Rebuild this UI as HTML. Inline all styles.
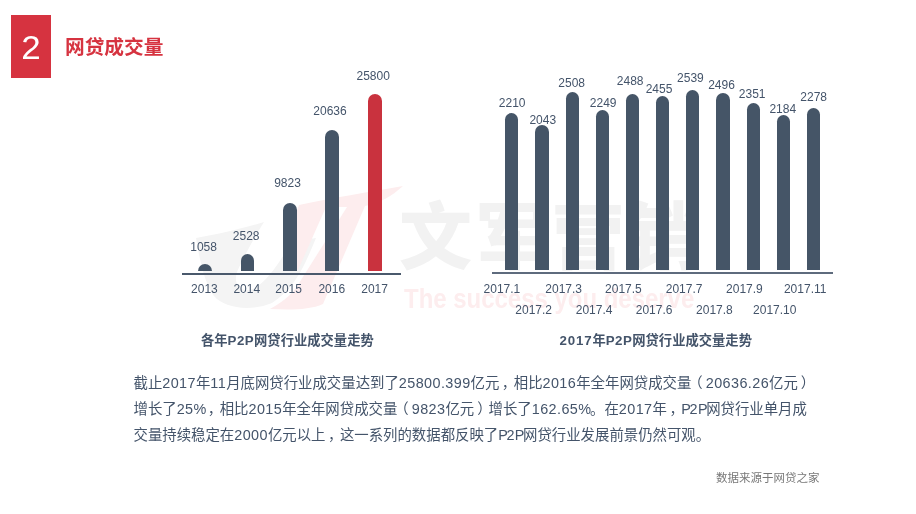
<!DOCTYPE html>
<html lang="zh-CN">
<head>
<meta charset="utf-8">
<title>网贷成交量</title>
<style>
html,body{margin:0;padding:0;}
body{width:916px;height:514px;position:relative;overflow:hidden;background:#fff;
 font-family:"Liberation Sans","Noto Sans CJK SC",sans-serif;color:#44546A;}
.abs{position:absolute;}
.badge{left:11px;top:15px;width:40px;height:63px;background:#D63340;color:#fff;}
.badge span{position:absolute;left:0;width:40px;top:15px;text-align:center;font-size:32.4px;line-height:36px;font-weight:400;transform:scaleX(1.08);font-family:"Liberation Sans",sans-serif;}
.title{left:65px;top:32.5px;font-size:19.7px;line-height:28px;font-weight:700;color:#D63340;white-space:nowrap;}
.bar{position:absolute;background:#455567;border-radius:7px 7px 0 0;}
.bar.red{background:#C9323E;}
.lbl{position:absolute;font-size:12px;line-height:14px;white-space:nowrap;text-align:center;width:60px;margin-left:-30px;color:#44546A;}
.axis{position:absolute;height:1.5px;background:#5B6878;}
.ctitle{position:absolute;font-size:13.3px;line-height:18px;font-weight:700;white-space:nowrap;color:#44546A;}
.ctitle .tp{letter-spacing:0.45px;}
.ctitle .tn{letter-spacing:0.85px;}
.para{left:133.5px;top:370px;font-size:14.4px;line-height:26px;white-space:nowrap;color:#44546A;}
.para .n{letter-spacing:0.41px;}
.para .pc{letter-spacing:-1px;}
.para .p{letter-spacing:-1.4px;}
.para .cm{position:relative;left:2.5px;}
.para .lp{position:relative;left:-3px;}
.para .rp{position:relative;left:3px;}
.src{left:716px;top:468.5px;font-size:11.5px;line-height:18px;color:#787878;white-space:nowrap;}
.wm1{left:399px;top:188px;font-size:73px;line-height:100px;font-weight:900;color:#F2F2F2;letter-spacing:3.3px;white-space:nowrap;}
.wm2{left:403.5px;top:280.8px;font-size:27.6px;line-height:36px;color:#FDEDEE;white-space:nowrap;font-weight:700;transform:scaleX(0.868);transform-origin:0 0;}
</style>
</head>
<body>
<!-- watermark -->
<svg class="abs" style="left:0;top:0" width="916" height="514" viewBox="0 0 916 514">
 <path d="M196 238 C220 234 244 228 264 222 C254 238 242 260 237 272 C233 284 240 292 250 290 C263 287 278 265 292 242 L316 238 C306 262 296 288 272 303 C250 312 224 308 214 296 C205 284 200 262 196 238 Z" fill="#F4F4F4"/>
 <path d="M299 205 C330 198 370 192 403 186 C392 196 380 203 365 206 L323 304 C310 310 290 310 270 309 C282 302 290 296 296 288 L347 207 L326 207 L298 270 C292 268 288 262 286 254 C290 236 294 218 299 205 Z" fill="#FDEDEE"/>
</svg>
<div class="abs wm1">文军营销</div>
<div class="abs wm2">The success you deserve</div>

<!-- header -->
<div class="abs badge"><span>2</span></div>
<div class="abs title">网贷成交量</div>

<!-- left chart -->
<div id="c1">
<div class="bar" style="left:198.1px;top:263.5px;width:13.6px;height:7.5px;"></div>
<div class="lbl" style="left:203.6px;top:239.9px;">1058</div>
<div class="lbl" style="left:204.4px;top:282.0px;">2013</div>
<div class="bar" style="left:240.6px;top:253.5px;width:13.6px;height:17.5px;"></div>
<div class="lbl" style="left:246.2px;top:228.6px;">2528</div>
<div class="lbl" style="left:246.8px;top:282.0px;">2014</div>
<div class="bar" style="left:283.0px;top:203.1px;width:13.6px;height:67.9px;"></div>
<div class="lbl" style="left:287.5px;top:176.1px;">9823</div>
<div class="lbl" style="left:288.6px;top:282.0px;">2015</div>
<div class="bar" style="left:325.3px;top:129.9px;width:13.6px;height:141.1px;"></div>
<div class="lbl" style="left:330.0px;top:104.1px;">20636</div>
<div class="lbl" style="left:331.8px;top:282.0px;">2016</div>
<div class="bar red" style="left:368.0px;top:93.6px;width:13.6px;height:177.4px;"></div>
<div class="lbl" style="left:373.2px;top:69.2px;">25800</div>
<div class="lbl" style="left:374.6px;top:282.0px;">2017</div>
</div><!--/c1-->
<div class="axis" style="left:182px;top:273px;width:219px;height:2px;background:#4A596C;"></div>
<div class="ctitle" style="left:201px;top:332px;">各年<span class="tp">P2P</span>网贷行业成交量走势</div>

<!-- right chart -->
<div id="c2">
<div class="bar" style="left:505.2px;top:113.0px;width:13.3px;height:157.0px;"></div>
<div class="lbl" style="left:512.2px;top:95.5px;">2210</div>
<div class="lbl" style="left:501.9px;top:282.0px;">2017.1</div>
<div class="bar" style="left:535.4px;top:125.4px;width:13.3px;height:144.6px;"></div>
<div class="lbl" style="left:542.8px;top:113.3px;">2043</div>
<div class="lbl" style="left:533.7px;top:303.0px;">2017.2</div>
<div class="bar" style="left:565.5px;top:92.0px;width:13.3px;height:178.0px;"></div>
<div class="lbl" style="left:571.7px;top:75.5px;">2508</div>
<div class="lbl" style="left:563.7px;top:282.0px;">2017.3</div>
<div class="bar" style="left:595.7px;top:110.4px;width:13.3px;height:159.6px;"></div>
<div class="lbl" style="left:603.2px;top:96.3px;">2249</div>
<div class="lbl" style="left:594.1px;top:303.0px;">2017.4</div>
<div class="bar" style="left:625.8px;top:93.6px;width:13.3px;height:176.4px;"></div>
<div class="lbl" style="left:630.2px;top:74.2px;">2488</div>
<div class="lbl" style="left:623.4px;top:282.0px;">2017.5</div>
<div class="bar" style="left:656.0px;top:96.0px;width:13.3px;height:174.0px;"></div>
<div class="lbl" style="left:659.0px;top:82.4px;">2455</div>
<div class="lbl" style="left:654.1px;top:303.0px;">2017.6</div>
<div class="bar" style="left:686.2px;top:89.7px;width:13.3px;height:180.3px;"></div>
<div class="lbl" style="left:690.4px;top:71.3px;">2539</div>
<div class="lbl" style="left:684.1px;top:282.0px;">2017.7</div>
<div class="bar" style="left:716.3px;top:92.8px;width:13.3px;height:177.2px;"></div>
<div class="lbl" style="left:721.5px;top:78.4px;">2496</div>
<div class="lbl" style="left:714.4px;top:303.0px;">2017.8</div>
<div class="bar" style="left:746.5px;top:102.8px;width:13.3px;height:167.2px;"></div>
<div class="lbl" style="left:752.2px;top:87.3px;">2351</div>
<div class="lbl" style="left:744.4px;top:282.0px;">2017.9</div>
<div class="bar" style="left:776.6px;top:114.6px;width:13.3px;height:155.4px;"></div>
<div class="lbl" style="left:782.8px;top:102.3px;">2184</div>
<div class="lbl" style="left:774.8px;top:303.0px;">2017.10</div>
<div class="bar" style="left:806.8px;top:108.0px;width:13.3px;height:162.0px;"></div>
<div class="lbl" style="left:813.7px;top:90.0px;">2278</div>
<div class="lbl" style="left:805.2px;top:282.0px;">2017.11</div>
</div><!--/c2-->
<div class="axis" style="left:492px;top:272px;width:340.5px;height:2px;background:#5E6B7D;"></div>
<div class="ctitle" style="left:559.5px;top:332px;"><span class="tn">2017</span>年<span class="tp">P2P</span>网贷行业成交量走势</div>

<div class="abs para">截止<span class="n">2017</span>年<span class="n">11</span>月底网贷行业成交量达到了<span class="n">25800.399</span>亿元<span class="cm">，</span>相比<span class="n">2016</span>年全年网贷成交量<span class="lp">（</span><span class="n">20636.26</span>亿元<span class="rp">）</span><br>增长了<span class="n">25</span><span class="pc">%</span><span class="cm">，</span>相比<span class="n">2015</span>年全年网贷成交量<span class="lp">（</span><span class="n">9823</span>亿元<span class="rp">）</span>增长了<span class="n">162.65</span><span class="pc">%</span>。在<span class="n">2017</span>年<span class="cm">，</span><span class="p">P</span><span class="n">2</span><span class="p">P</span>网贷行业单月成<br>交量持续稳定在<span class="n">2000</span>亿元以上<span class="cm">，</span>这一系列的数据都反映了<span class="p">P</span><span class="n">2</span><span class="p">P</span>网贷行业发展前景仍然可观。</div>
<div class="abs src">数据来源于网贷之家</div>
</body>
</html>
